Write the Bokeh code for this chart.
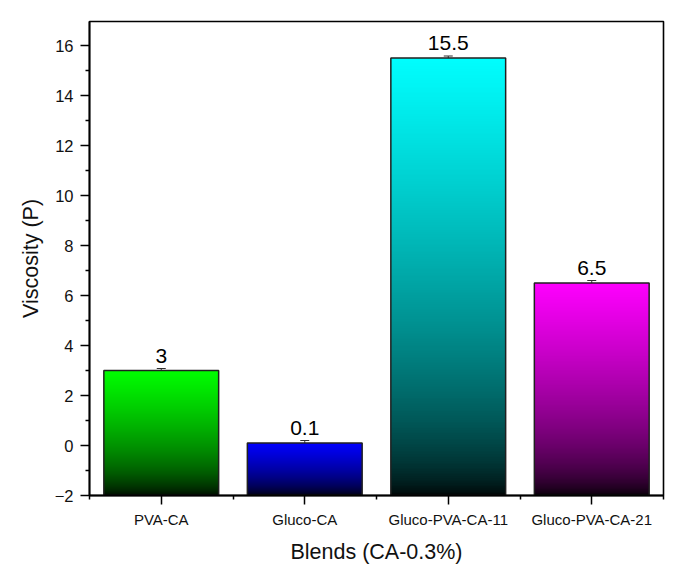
import numpy as np
from bokeh.plotting import figure
from bokeh.models import FixedTicker, Range1d, ColumnDataSource, Whisker
from bokeh.embed import file_html
from bokeh.resources import INLINE

categories = ["PVA-CA", "Gluco-CA", "Gluco-PVA-CA-11", "Gluco-PVA-CA-21"]
values = [3.0, 0.1, 15.5, 6.5]
errors = [0.08, 0.1, 0.08, 0.1]
labels = ["3", "0.1", "15.5", "6.5"]
top_colors = [(0, 255, 0), (0, 0, 255), (0, 255, 255), (255, 0, 255)]
y_ticks = [-2, 0, 2, 4, 6, 8, 10, 12, 14, 16]
y_minor = [-1, 1, 3, 5, 7, 9, 11, 13, 15]

FONT = "Liberation Sans"
BASE = -2.0
WIDTH = 0.8
N = 256

p = figure(width=677, height=571,
           min_border_left=89, min_border_right=14, min_border_top=21, min_border_bottom=76,
           output_backend="svg", toolbar_location=None,
           x_range=Range1d(0.5, 4.5), y_range=Range1d(-2, 16.96))
p.background_fill_color = "white"
p.border_fill_color = "white"
p.grid.visible = False
p.outline_line_color = "black"
p.outline_line_width = 1.6

xs = np.arange(1, len(categories) + 1)

# gradient bars as stretched RGBA images (black at base -> colour at top)
f = (np.arange(N) + 0.5) / N
g = f ** 0.6
for x, v, c in zip(xs, values, top_colors):
    img = np.empty((N, 1), dtype=np.uint32)
    view = img.view(dtype=np.uint8).reshape((N, 1, 4))
    view[:, 0, 0] = (c[0] * g).astype(np.uint8)
    view[:, 0, 1] = (c[1] * g).astype(np.uint8)
    view[:, 0, 2] = (c[2] * g).astype(np.uint8)
    view[:, 0, 3] = 255
    p.image_rgba(image=[img], x=x - WIDTH / 2, y=BASE, dw=WIDTH, dh=v - BASE)
p.quad(left=xs - WIDTH / 2, right=xs + WIDTH / 2, bottom=BASE, top=values,
       fill_color=None, line_color="#202020", line_width=1.5)

# error bars
src = ColumnDataSource(dict(x=xs, upper=np.array(values) + np.array(errors),
                            lower=np.array(values) - np.array(errors),
                            v=values, lab=labels))
w = Whisker(base="x", upper="upper", lower="lower", source=src, line_color="#303030", line_width=1)
w.upper_head.size = 9
w.lower_head.size = 9
w.upper_head.line_color = "#303030"
w.lower_head.line_color = "#303030"
p.add_layout(w)

p.text(x="x", y="v", text="lab", source=src, text_align="center", text_baseline="bottom",
       y_offset=-8, text_font_size="21px", text_color="black", text_font={"value": FONT})

# axes
p.xaxis.ticker = FixedTicker(ticks=list(xs), minor_ticks=[0.5, 1.5, 2.5, 3.5, 4.5])
p.xaxis.major_label_overrides = {int(x): c for x, c in zip(xs, categories)}
p.yaxis.ticker = FixedTicker(ticks=y_ticks, minor_ticks=y_minor)
for ax in (p.xaxis[0], p.yaxis[0]):
    ax.axis_line_width = 1.8
    ax.axis_line_color = "black"
    ax.major_tick_line_color = "black"
    ax.minor_tick_line_color = "black"
    ax.major_tick_line_width = 1.5
    ax.minor_tick_line_width = 1.5
    ax.major_tick_out = 9
    ax.major_tick_in = 0
    ax.minor_tick_out = 4
    ax.minor_tick_in = 0
    ax.major_label_text_font = FONT
    ax.axis_label_text_font = FONT
    ax.major_label_text_color = "#111111"
    ax.axis_label_text_color = "#111111"
    ax.axis_label_text_font_style = "normal"
    ax.axis_label_text_font_size = "21.5px"

p.xaxis.axis_label = "Blends (CA-0.3%)"
p.yaxis.axis_label = "Viscosity (P)"
p.xaxis.major_label_text_font_size = "15px"
p.yaxis.major_label_text_font_size = "16.5px"
p.xaxis.major_label_standoff = 6
p.yaxis.major_label_standoff = 7
p.xaxis.axis_label_standoff = 9
p.yaxis.axis_label_standoff = 9

open("out.html", "w").write(file_html(p, INLINE))
